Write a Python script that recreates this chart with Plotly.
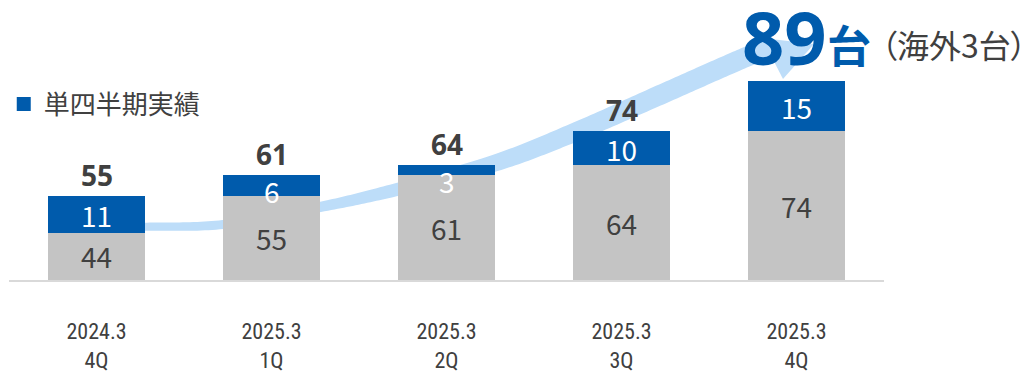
import numpy as np
import plotly.graph_objects as go

# ---- data ----
categories = ["2024.3<br>4Q", "2025.3<br>1Q", "2025.3<br>2Q", "2025.3<br>3Q", "2025.3<br>4Q"]
cumulative_prior = [44, 55, 61, 64, 74]      # cumulative units before the quarter
quarter_units = [11, 6, 3, 10, 15]           # units added in the quarter
overseas_units = 3
series_name = "単四半期実績"
unit = "台"

totals = [a + b for a, b in zip(cumulative_prior, quarter_units)]

# ---- style ----
BLUE = "#005BAC"
GREY = "#C4C4C4"
TEXT = "#404040"
BAND = "#BDDDF9"
AXIS = "#D9D9D9"
JP = "Noto Sans CJK JP, Noto Sans, sans-serif"
LATIN = "Noto Sans, Noto Sans CJK JP, sans-serif"
NARROW = "Liberation Sans Narrow, Roboto Condensed, Noto Sans, sans-serif"

W, H = 1028, 375
ML, MR, MT, MB = 9, 144, 0, 95
PW, PH = W - ML - MR, H - MT - MB
Y0 = 30
PX_PER_UNIT = 3.38
Y1 = Y0 + PH / PX_PER_UNIT
BAR_W = 0.554

x_idx = list(range(len(categories)))

fig = go.Figure()
fig.add_bar(x=x_idx, y=cumulative_prior, marker=dict(color=GREY, line=dict(width=0)),
            width=BAR_W, showlegend=False, hoverinfo="skip")
fig.add_bar(x=x_idx, y=quarter_units, marker=dict(color=BLUE, line=dict(width=0)),
            width=BAR_W, name=series_name, showlegend=False, hoverinfo="skip")
# legend entry with a slightly larger square swatch
fig.add_scatter(x=[None], y=[None], mode="markers", name=series_name,
                marker=dict(symbol="square", size=14, color=BLUE), showlegend=True)


# ---- growth arrow (decorative band behind the bars) ----
def to_paper(px, py):
    return (px - ML) / PW, (MT + PH - py) / PH


def catmull_rom(pts, n=24):
    pts = np.asarray(pts, float)
    ext = np.vstack([2 * pts[0] - pts[1], pts, 2 * pts[-1] - pts[-2]])
    out = []
    for i in range(1, len(ext) - 2):
        p0, p1, p2, p3 = ext[i - 1], ext[i], ext[i + 1], ext[i + 2]
        for t in np.linspace(0, 1, n, endpoint=False):
            t2, t3 = t * t, t * t * t
            out.append(0.5 * ((2 * p1) + (-p0 + p2) * t + (2 * p0 - 5 * p1 + 4 * p2 - p3) * t2
                              + (-p0 + 3 * p1 - 3 * p2 + p3) * t3))
    out.append(ext[-2])
    return np.array(out)


guide = [(120, 227.8), (145, 226.7), (223, 224.5), (320, 207), (395, 190),
         (495, 163), (573, 133), (660, 95), (730, 64), (775, 45)]
widths = [8, 8, 9, 10, 13, 17, 19, 20, 20, 20]
centre = catmull_rom(guide)
arc = np.r_[0, np.cumsum(np.hypot(*np.diff(centre, axis=0).T))]
knot_s = [arc[np.argmin(np.hypot(centre[:, 0] - gx, centre[:, 1] - gy))] for gx, gy in guide]
thick = np.interp(arc, knot_s, widths)
d = np.gradient(centre, axis=0)
d /= np.hypot(d[:, 0], d[:, 1])[:, None]
nrm = np.c_[-d[:, 1], d[:, 0]]
upper = centre + nrm * thick[:, None] / 2
lower = centre - nrm * thick[:, None] / 2
poly = np.vstack([upper, lower[::-1]])


def path_of(points):
    coords = [to_paper(px, py) for px, py in points]
    return "M " + " L ".join(f"{x:.5f},{y:.5f}" for x, y in coords) + " Z"


fig.add_shape(type="path", path=path_of(poly), xref="paper", yref="paper",
              fillcolor=BAND, line=dict(width=0), layer="below")
head = [(762, 38), (814, 44), (783, 79)]
fig.add_shape(type="path", path=path_of(head), xref="paper", yref="paper",
              fillcolor=BAND, line=dict(width=0), layer="below")

# ---- labels ----
annotations = []
min_gap = 15 / PX_PER_UNIT
for i, (base, q, tot) in enumerate(zip(cumulative_prior, quarter_units, totals)):
    annotations.append(dict(x=i, y=(Y0 + base) / 2, text=str(base), showarrow=False,
                            yanchor="middle", yshift=0,
                            font=dict(family=JP, size=28, color=TEXT)))
    qy = min(base + q / 2, tot - min_gap)
    annotations.append(dict(x=i, y=qy, text=str(q), showarrow=False,
                            yanchor="middle", yshift=-1,
                            font=dict(family=JP, size=28, color="white")))
    if i < len(totals) - 1:
        annotations.append(dict(x=i, y=tot, text=f"<b>{tot}</b>", showarrow=False,
                                yanchor="bottom", yshift=0,
                                font=dict(family=LATIN, size=28, color=TEXT)))

last = len(totals) - 1
annotations.append(dict(x=last, y=totals[last], xanchor="right", yanchor="bottom",
                        xshift=32, yshift=-8, showarrow=False,
                        text=f"<b>{totals[last]}</b>",
                        font=dict(family=LATIN, size=74, color=BLUE)))
annotations.append(dict(x=last, y=totals[last], xanchor="left", yanchor="bottom",
                        xshift=28, yshift=3, showarrow=False,
                        text=f"<b>{unit}</b>",
                        font=dict(family=JP, size=44, color=BLUE)))
annotations.append(dict(x=(879 - ML) / PW, xref="paper", y=totals[last],
                        xanchor="left", yanchor="bottom", yshift=12, showarrow=False,
                        text=("<span style=\"font-feature-settings:'palt'\">"
                              f"（海外{overseas_units}{unit}）</span>"),
                        font=dict(family=JP, size=32, color=TEXT)))

fig.update_layout(
    width=W, height=H,
    margin=dict(l=ML, r=MR, t=MT, b=MB, pad=0, autoexpand=False),
    barmode="stack", bargap=0,
    plot_bgcolor="white", paper_bgcolor="white",
    annotations=annotations,
    showlegend=True,
    legend=dict(x=-0.006, y=(PH - 104) / PH, xanchor="left", yanchor="middle",
                bgcolor="rgba(0,0,0,0)", borderwidth=0,
                font=dict(family=JP, size=26, color=TEXT)),
    xaxis=dict(range=[-0.5, len(categories) - 0.5], tickvals=x_idx, ticktext=categories,
               showgrid=False, zeroline=False, showline=True, linecolor=AXIS, linewidth=2,
               ticks="", ticklabelstandoff=31, automargin=False,
               tickfont=dict(family=NARROW, size=22, color=TEXT)),
    yaxis=dict(range=[Y0, Y1], visible=False, showgrid=False, zeroline=False,
               automargin=False),
)

fig.write_html("out.html")
